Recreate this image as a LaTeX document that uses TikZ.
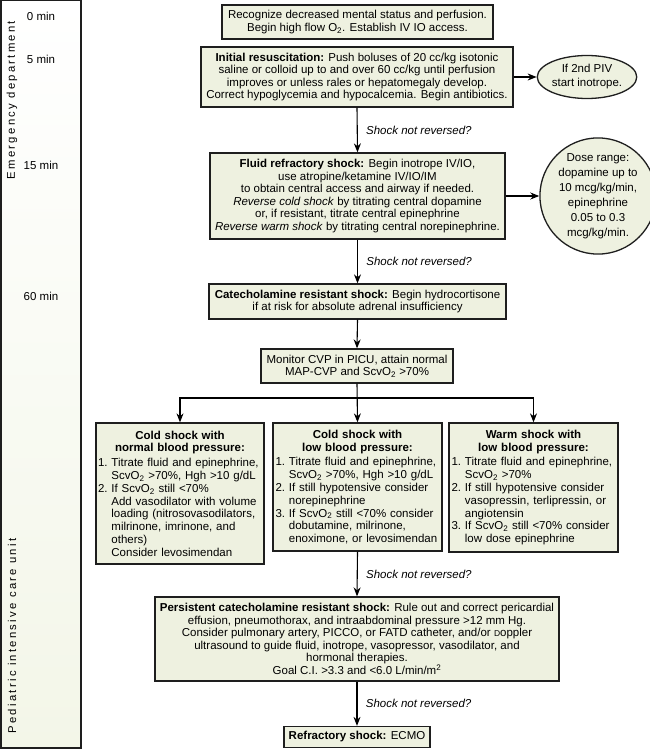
\documentclass[tikz,border=0pt]{standalone}
\usepackage{fontspec}
\setmainfont{Liberation Sans}
\usetikzlibrary{arrows.meta,shapes.geometric}
\definecolor{boxfill}{RGB}{238,241,224}
\definecolor{barfill}{RGB}{243,246,232}
\definecolor{edge}{RGB}{30,30,30}
\newcommand{\sub}[1]{\textsubscript{#1}}
\newcommand{\ind}{\phantom{1.\ }}
\begin{document}
\begin{tikzpicture}[x=1pt,y=-1pt,
  every node/.style={font=\fontsize{11.5}{12.5}\selectfont, text=black},
  box/.style={draw=edge, line width=1.3pt, fill=boxfill, align=center, inner sep=0pt},
  listbox/.style={draw=edge, line width=1.3pt, fill=boxfill, align=left, inner sep=0pt, text width=164pt, font=\fontsize{11.5}{12.8}\selectfont},
  arr/.style={draw=black, line width=1.1pt, -{Stealth[length=9pt,width=7pt]}},
  lbl/.style={font=\fontsize{11.5}{12.5}\selectfont\itshape, anchor=west},
  timel/.style={font=\fontsize{11.5}{12.5}\selectfont},
  sidel/.style={font=\fontsize{11.3}{12.5}\selectfont\addfontfeature{LetterSpace=20}, rotate=90}
]
\useasboundingbox (0,0) rectangle (650,749);
% side bar
\path[top color=white, bottom color=barfill] (1,0.5) rectangle (81,748);
\draw[edge, line width=1.3pt] (1,0.5) rectangle (81,748);
\node[timel] (t0) at (41,16) {0 min};
\node[timel] (t5) at (41,59) {5 min};
\node[timel] (t15) at (41,165) {15 min};
\node[timel] (t60) at (41,296) {60 min};
\node[sidel] (ed) at (12,100) {Emergency department};
\node[sidel] (picu) at (12,636) {Pediatric intensive care unit};

% boxes
\node[box, minimum width=271pt, minimum height=34pt] (b1) at (357.5,22)
  {Recognize decreased mental status and perfusion.\\Begin high flow O\sub{2}. Establish IV IO access.};
\node[box, minimum width=312pt, minimum height=60pt] (b2) at (357,77)
  {\textbf{Initial resuscitation:} Push boluses of 20 cc/kg isotonic\\saline or colloid up to and over 60 cc/kg until perfusion\\improves or unless rales or hepatomegaly develop.\\Correct hypoglycemia and hypocalcemia. Begin antibiotics.};
\node[draw=edge, line width=1.3pt, fill=boxfill, ellipse, minimum width=85pt, minimum height=43pt, inner sep=0pt, align=center, font=\fontsize{11.5}{14}\selectfont] (e1) at (587,77)
  {If 2nd PIV\\start inotrope.};
\node[box, minimum width=295pt, minimum height=86pt] (b3) at (357.5,196)
  {\textbf{Fluid refractory shock:} Begin inotrope IV/IO,\\use atropine/ketamine IV/IO/IM\\to obtain central access and airway if needed.\\\textit{Reverse cold shock} by titrating central dopamine\\or, if resistant, titrate central epinephrine\\\textit{Reverse warm shock} by titrating central norepinephrine.};
\node[draw=edge, line width=1.3pt, fill=boxfill, circle, minimum size=102pt, inner sep=0pt, align=center, font=\fontsize{11.5}{15}\selectfont] (c1) at (598,196)
  {Dose range:\\dopamine up to\\10 mcg/kg/min,\\epinephrine\\0.05 to 0.3\\mcg/kg/min.};
\node[box, minimum width=297pt, minimum height=35pt] (b4) at (357.5,301.5)
  {\textbf{Catecholamine resistant shock:} Begin hydrocortisone\\if at risk for absolute adrenal insufficiency};
\node[box, minimum width=192pt, minimum height=34pt] (b5) at (357,366)
  {Monitor CVP in PICU, attain normal\\MAP-CVP and ScvO\sub{2} >70\%};

\node[listbox, minimum width=168pt, minimum height=141pt] (bl) at (180,493.5)
  {{\centering\textbf{Cold shock with\\normal blood pressure:}\par}
   \vspace{2pt}
   1.\ Titrate fluid and epinephrine,\\
   \ind ScvO\sub{2} >70\%, Hgh >10 g/dL\\
   2.\ If ScvO\sub{2} still <70\%\\
   \ind Add vasodilator with volume\\
   \ind loading (nitrosovasodilators,\\
   \ind milrinone, imrinone, and\\
   \ind others)\\
   \ind Consider levosimendan};
\node[listbox, minimum width=169pt, minimum height=128pt] (bm) at (357.5,487)
  {{\centering\textbf{Cold shock with\\low blood pressure:}\par}
   \vspace{2pt}
   1.\ Titrate fluid and epinephrine,\\
   \ind ScvO\sub{2} >70\%, Hgh >10 g/dL\\
   2.\ If still hypotensive consider\\
   \ind norepinephrine\\
   3.\ If ScvO\sub{2} still <70\% consider\\
   \ind dobutamine, milrinone,\\
   \ind \mbox{enoximone, or levosimendan}};
\node[listbox, minimum width=169pt, minimum height=129pt] (br) at (533.5,487.5)
  {{\centering\textbf{Warm shock with\\low blood pressure:}\par}
   \vspace{2pt}
   1.\ Titrate fluid and epinephrine,\\
   \ind ScvO\sub{2} >70\%\\
   2.\ If still hypotensive consider\\
   \ind vasopressin, terlipressin, or\\
   \ind angiotensin\\
   3.\ If ScvO\sub{2} still <70\% consider\\
   \ind low dose epinephrine};

\node[box, minimum width=404pt, minimum height=84pt] (bp) at (357,639)
  {\textbf{Persistent catecholamine resistant shock:} Rule out and correct pericardial\\effusion, pneumothorax, and intraabdominal pressure >12 mm Hg.\\Consider pulmonary artery, PICCO, or FATD catheter, and/or {\fontsize{8.5}{10}\selectfont D}oppler\\ultrasound to guide fluid, inotrope, vasopressor, vasodilator, and\\hormonal therapies.\\Goal C.I. >3.3 and <6.0 L/min/m\textsuperscript{2}};
\node[box, minimum width=146pt, minimum height=21pt] (be) at (357,737)
  {\textbf{Refractory shock:} ECMO};

% connectors
\draw[arr] (b2.south) -- (b3.north) node[lbl, pos=0.5, xshift=5pt] (l1) {Shock not reversed?};
\draw[arr] (b2.east) -- (e1.west);
\draw[arr] (b3.east) -- (c1.west);
\draw[arr] (b3.south) -- (b4.north) node[lbl, pos=0.5, xshift=5pt] (l2) {Shock not reversed?};
\draw[arr] (b4.south) -- (b5.north);
\coordinate (split) at (357,398);
\draw[arr] (b5.south) -- (bm.north);
\draw[arr] (split) -| (bl.north);
\draw[arr] (split) -| (br.north);
\draw[arr] (bm.south) -- (bp.north) node[lbl, pos=0.5, xshift=5pt] (l3) {Shock not reversed?};
\draw[arr] (bp.south) -- (be.north) node[lbl, pos=0.5, xshift=5pt] (l4) {Shock not reversed?};
\end{tikzpicture}
\end{document}
